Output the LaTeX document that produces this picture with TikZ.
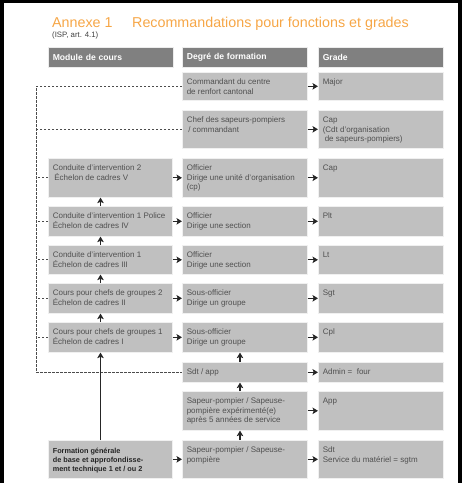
\documentclass[tikz,border=0pt]{standalone}
\usepackage{fontspec}
\setmainfont{Liberation Sans}
\usetikzlibrary{arrows.meta}
\definecolor{titleorange}{RGB}{246,166,70}
\definecolor{headgray}{RGB}{128,128,128}
\definecolor{cellgray}{RGB}{192,192,192}
\definecolor{txtgray}{RGB}{80,80,80}
\newcommand{\celltxt}[4][12]{\parbox[c][#3pt][t]{#2pt}{\raggedright\rule{0pt}{#1pt}#4}}

\begin{document}
\begin{tikzpicture}[x=1pt,y=-1pt,
    head/.style={fill=headgray, draw=white!85!gray, line width=0.6pt, anchor=north west,
      inner xsep=4.5pt, inner ysep=0pt, minimum height=20pt, text width=115.5pt, align=left,
      text=white, font=\fontsize{8.6}{10}\selectfont\bfseries},
    cell/.style={fill=cellgray, draw=white!88!gray, line width=0.6pt, anchor=north west,
      inner xsep=4.5pt, inner ysep=0pt, text=txtgray, font=\fontsize{8}{9.7}\selectfont},
    arr/.style={-{Stealth[length=5.5pt,width=6.5pt,inset=1.2pt]}, line width=1.1pt, black!85},
    dashlink/.style={dash pattern=on 2.5pt off 1.5pt, line width=0.7pt, black!70}]
    \useasboundingbox (0,0) rectangle (462,483);
    \fill (0,0) rectangle (4,483);
    \fill (0,0) rectangle (462,3);
    \fill (458,0) rectangle (462,483);

    \node[anchor=base west, inner sep=0pt, text=titleorange, font=\fontsize{14.3}{16}\selectfont]
        (annexe) at (52,27) {Annexe 1};
    \node[anchor=base west, inner sep=0pt, text=titleorange, font=\fontsize{14.3}{16}\selectfont]
        (titre) at (132,27) {Recommandations pour fonctions et grades};
    \node[anchor=base west, inner sep=0pt, text=black!75, font=\fontsize{7.8}{9}\selectfont]
        (isp) at (52,37) {(ISP, art. 4.1)};

    \node[head] (hmod) at (48,47) {Module de cours};
    \node[head] (hdeg) at (182,47) {Degré de formation};
    \node[head] (hgrade) at (318,47) {Grade};

    \node[cell] (c2A) at (182,72) {\celltxt{116}{28}{Commandant du centre\\de renfort cantonal}};
    \node[cell] (c3A) at (318,72) {\celltxt{116}{28}{Major}};

    \node[cell] (c2B) at (182,110) {\celltxt{116}{38}{Chef des sapeurs-pompiers\\\hspace*{1.5pt}/ commandant}};
    \node[cell] (c3B) at (318,110) {\celltxt{116}{38}{Cap\\(Cdt d'organisation\\\hspace*{2pt}de sapeurs-pompiers)}};

    \node[cell] (c1C) at (48,158) {\celltxt{115}{39}{Conduite d'intervention 2\\\hspace*{1.5pt}Échelon de cadres V}};
    \node[cell] (c2C) at (182,158) {\celltxt{116}{39}{Officier\\Dirige une unité d'organisation\\(cp)}};
    \node[cell] (c3C) at (318,158) {\celltxt{116}{39}{Cap}};

    \node[cell] (c1D) at (48,206) {\celltxt{115}{30}{Conduite d'intervention 1 Police\\Échelon de cadres IV}};
    \node[cell] (c2D) at (182,206) {\celltxt{116}{30}{Officier\\Dirige une section}};
    \node[cell] (c3D) at (318,206) {\celltxt{116}{30}{Plt}};

    \node[cell] (c1E) at (48,245) {\celltxt{115}{29}{Conduite d'intervention 1\\Échelon de cadres III}};
    \node[cell] (c2E) at (182,245) {\celltxt{116}{29}{Officier\\Dirige une section}};
    \node[cell] (c3E) at (318,245) {\celltxt{116}{29}{Lt}};

    \node[cell] (c1F) at (48,283) {\celltxt{115}{30}{Cours pour chefs de groupes 2\\Échelon de cadres II}};
    \node[cell] (c2F) at (182,283) {\celltxt{116}{30}{Sous-officier\\Dirige un groupe}};
    \node[cell] (c3F) at (318,283) {\celltxt{116}{30}{Sgt}};

    \node[cell] (c1G) at (48,322) {\celltxt{115}{30}{Cours pour chefs de groupes 1\\Échelon de cadres I}};
    \node[cell] (c2G) at (182,322) {\celltxt{116}{30}{Sous-officier\\Dirige un groupe}};
    \node[cell] (c3G) at (318,322) {\celltxt{116}{30}{Cpl}};

    \node[cell] (c2H) at (182,362) {\celltxt{116}{20}{Sdt / app}};
    \node[cell] (c3H) at (318,362) {\celltxt{116}{20}{Admin =\ \ four}};

    \node[cell] (c2I) at (182,391) {\celltxt{116}{39}{Sapeur-pompier / Sapeuse-\\pompière expérimenté(e)\\après 5 années de service}};
    \node[cell] (c3I) at (318,391) {\celltxt{116}{39}{App}};

    \node[cell, text=black!85, font=\fontsize{7.3}{9}\selectfont\bfseries] (c1J) at (48,440)
        {\celltxt[13.5]{115}{38}{Formation générale\\de base et approfondisse-\\ment technique 1 et / ou 2}};
    \node[cell] (c2J) at (182,440) {\celltxt{116}{38}{Sapeur-pompier / Sapeuse-\\pompière}};
    \node[cell] (c3J) at (318,440) {\celltxt{116}{38}{Sdt\\Service du matériel = sgtm}};

    \coordinate (rail) at (36,0);
    \coordinate (lspine) at (100.5,0);
    \coordinate (rspine) at (240,0);

    \draw[dashlink] (c2A.west) -- (c2A.west -| rail) -- (c2H.west -| rail) -- (c2H.west);
    \draw[dashlink] (c2B.west) -- (c2B.west -| rail);
    \foreach \r in {C,D,E,F,G}
        \draw[dashlink] (c1\r.west) -- (c1\r.west -| rail);

    \foreach \r in {A,B,C,D,E,F,G,H,I,J}
        \draw[arr] (c2\r.east) -- (c3\r.west);
    \foreach \r in {C,D,E,F,G,J}
        \draw[arr] (c1\r.east) -- (c2\r.west);

    \draw[arr] (c1D.north -| lspine) -- (c1C.south -| lspine);
    \draw[arr] (c1E.north -| lspine) -- (c1D.south -| lspine);
    \draw[arr] (c1F.north -| lspine) -- (c1E.south -| lspine);
    \draw[arr] (c1G.north -| lspine) -- (c1F.south -| lspine);
    \draw[arr] (c1J.north -| lspine) -- (c1G.south -| lspine);

    \draw[arr] (c2J.north -| rspine) -- (c2I.south -| rspine);
    \draw[arr] (c2I.north -| rspine) -- (c2H.south -| rspine);
    \draw[arr] (c2H.north -| rspine) -- (c2G.south -| rspine);
\end{tikzpicture}
\end{document}
